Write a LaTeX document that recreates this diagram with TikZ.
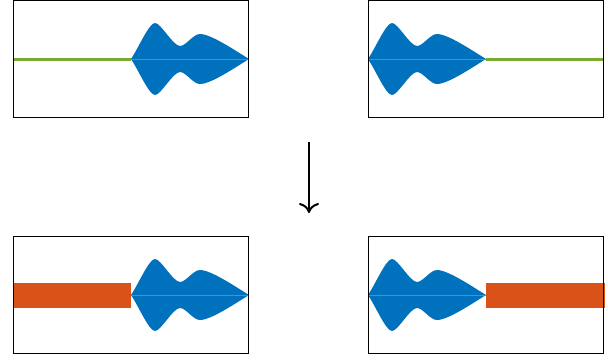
\documentclass[tikz,border=0pt]{standalone}
\usetikzlibrary{arrows.meta}
\definecolor{mblue}{HTML}{0072BD}
\definecolor{mlight}{HTML}{3C93D8}
\definecolor{mgreen}{HTML}{77AC30}
\definecolor{morange}{HTML}{D95319}
\tikzset{
  panel/.style={draw=black,line width=1.1pt,minimum width=235pt,minimum height=117pt,inner sep=0pt,fill=none},
  blobfill/.style={fill=mblue,draw=none},
  midl/.style={draw=mlight,line width=0.7pt},
  greenline/.style={draw=mgreen,line width=3pt},
  orangebar/.style={fill=morange,draw=none}
}
\newcommand{\myblob}[1]{%
  \fill[blobfill] (#1) ++(0,0)
    .. controls +(8,-12) and +(-6,0) .. ++(24,-36)
    .. controls +(6,0) and +(-7,0) .. ++(25,23)
    .. controls +(6,0) and +(-7,0) .. ++(20,-12)
    .. controls +(11,0) and +(-13,-8) .. ++(49,25)
    .. controls +(-13,8) and +(11,0) .. ++(-49,25)
    .. controls +(-7,0) and +(6,0) .. ++(-20,-12)
    .. controls +(-7,0) and +(6,0) .. ++(-25,23)
    .. controls +(-6,0) and +(8,12) .. ++(-24,-36) -- cycle;
}
\begin{document}
\begin{tikzpicture}[x=1pt,y=-1pt]
\useasboundingbox (0,0) rectangle (608,360);
% top left
\coordinate (tlS) at (13,59);
\coordinate (tlB) at (131,59);
\coordinate (tlE) at (249,59);
\draw[greenline] (tlS) -- (tlB);
\myblob{tlB}
\draw[midl] (tlB) -- (tlE);
\node[panel] (tl) at (131,59) {};
% top right
\coordinate (trB) at (368,59);
\coordinate (trM) at (486,59);
\coordinate (trE) at (604,59);
\draw[greenline] (trM) -- (trE);
\myblob{trB}
\draw[midl] (trB) -- (trM);
\node[panel] (tr) at (486,59) {};
% bottom left
\coordinate (blB) at (131,295);
\coordinate (blE) at (249,295);
\fill[orangebar] (13,283) rectangle (131,308);
\myblob{blB}
\draw[midl] (blB) -- (blE);
\node[panel] (bl) at (131,295) {};
% bottom right
\coordinate (brB) at (368,295);
\coordinate (brM) at (486,295);
\fill[orangebar] (486,283) rectangle (605,308);
\myblob{brB}
\draw[midl] (brB) -- (brM);
\node[panel] (br) at (486,295) {};
% arrow
\coordinate (aS) at (309,142);
\coordinate (aE) at (309,213);
\draw[line width=2pt,-{To[length=10pt,width=20pt]}] (aS) -- (aE);
\end{tikzpicture}
\end{document}
